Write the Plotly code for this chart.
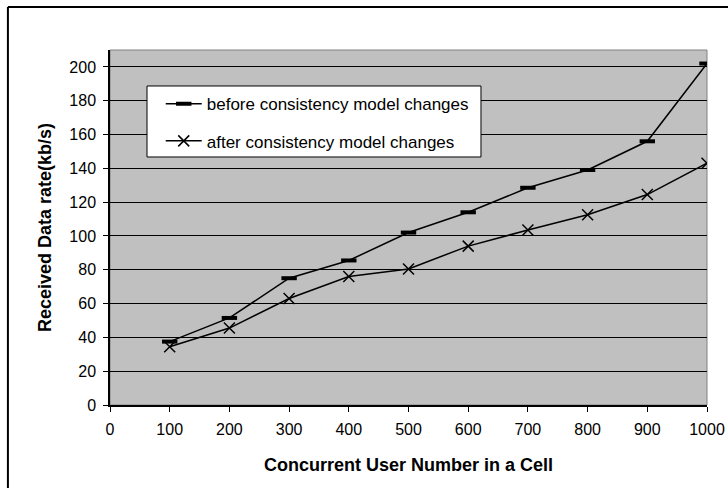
import plotly.graph_objects as go

# Concurrent users per cell
users = [100, 200, 300, 400, 500, 600, 700, 800, 900, 1000]

# Received data rate (kb/s)
before_rate = [37.5, 51.5, 75, 85.5, 102, 114, 128.5, 139, 156, 202]
after_rate = [34.5, 45.5, 63, 76, 80.5, 94, 103.5, 112.5, 124.5, 143]

x_ticks = [0, 100, 200, 300, 400, 500, 600, 700, 800, 900, 1000]
y_ticks = [0, 20, 40, 60, 80, 100, 120, 140, 160, 180, 200]

FONT = "Arial, 'Liberation Sans', sans-serif"

fig = go.Figure()
fig.add_trace(go.Scatter(
    x=users, y=before_rate, mode="lines+markers",
    name="before consistency model changes", legendgroup="before",
    line=dict(color="black", width=1.5),
    marker=dict(symbol="line-ew", size=11, line=dict(color="black", width=4)),
))
fig.add_trace(go.Scatter(
    x=users, y=after_rate, mode="lines+markers",
    name="after consistency model changes", legendgroup="after",
    line=dict(color="black", width=1.5),
    marker=dict(symbol="x-thin", size=11, line=dict(color="black", width=1.5)),
))

fig.update_layout(
    width=728, height=488,
    autosize=False,
    margin=dict(l=110, r=21, t=50, b=83, autoexpand=False),
    paper_bgcolor="white",
    plot_bgcolor="#C0C0C0",
    font=dict(family=FONT, size=16, color="black"),
    showlegend=True,
    legend=dict(
        x=0.085, y=0.898, xanchor="left", yanchor="top",
        bgcolor="rgba(0,0,0,0)", borderwidth=0,
        font=dict(family=FONT, size=17, color="black"),
        tracegroupgap=12, itemwidth=36,
    ),
    xaxis=dict(
        range=[0, 1000], tickvals=x_ticks, ticktext=[str(v) for v in x_ticks],
        showgrid=False, zeroline=False, automargin=False,
        showline=True, linecolor="black", linewidth=1.5,
        ticks="outside", ticklen=5, tickcolor="black", tickwidth=1,
        ticklabelstandoff=4,
        tickfont=dict(size=16),
        title=dict(text="<b>Concurrent User Number in a Cell</b>",
                   font=dict(size=18), standoff=21),
    ),
    yaxis=dict(
        range=[0, 210], tickvals=y_ticks, ticktext=[str(v) for v in y_ticks],
        showgrid=True, gridcolor="black", gridwidth=1, zeroline=False,
        automargin=False,
        showline=True, linecolor="black", linewidth=1.5,
        ticks="outside", ticklen=5, tickcolor="black", tickwidth=1,
        ticklabelstandoff=4,
        tickfont=dict(size=16),
        title=dict(text="<b>Received Data rate(kb/s)</b>",
                   font=dict(size=18), standoff=13),
    ),
    shapes=[
        # grey frame around the plot area
        dict(type="rect", xref="paper", yref="paper", x0=0, y0=0, x1=1, y1=1,
             line=dict(color="#808080", width=1), layer="below"),
        # white legend panel
        dict(type="rect", xref="paper", yref="paper",
             x0=0.062, y0=0.6986, x1=0.6214, y1=0.8986,
             fillcolor="white", line=dict(color="black", width=1), layer="above"),
        # outer chart border (left and top edges)
        dict(type="line", xref="paper", yref="paper",
             x0=-0.171, y0=1.121, x1=1.1, y1=1.121,
             line=dict(color="black", width=2)),
        dict(type="line", xref="paper", yref="paper",
             x0=-0.171, y0=-0.3, x1=-0.171, y1=1.121,
             line=dict(color="black", width=2)),
    ],
)

fig.write_html("out.html")
